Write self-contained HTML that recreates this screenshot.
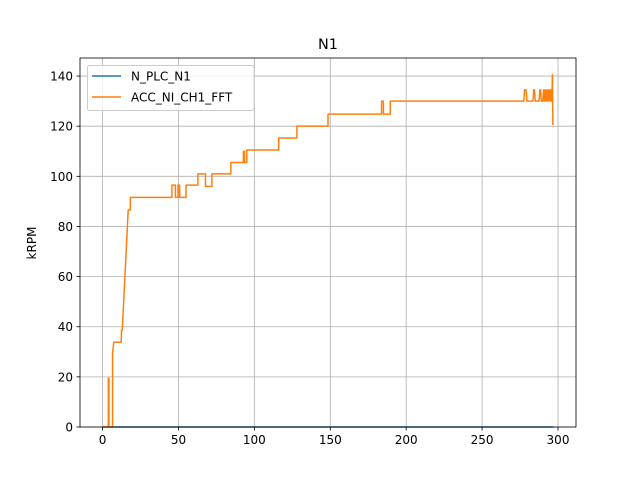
<!DOCTYPE html>
<html><head><meta charset="utf-8"><style>
body{margin:0;background:#fff;}
svg{display:block;font-family:"DejaVu Sans","Liberation Sans",sans-serif;}
</style></head><body>
<svg id="chart" width="640" height="480" viewBox="0 0 640 480">
<rect width="640" height="480" fill="#fff"/>
<g id="grid"></g>
<g id="series"></g>
<rect x="80" y="58" width="496" height="369" fill="none" stroke="#000" stroke-width="0.8"/>
<g id="ticks"></g>
<text x="328" y="49" font-size="14.4" text-anchor="middle">N1</text>
<text x="0" y="0" font-size="12" text-anchor="middle" transform="translate(36,243) rotate(-90)">kRPM</text>
<g>
<rect x="87.5" y="65.5" width="166.5" height="45" rx="2" fill="#fff" fill-opacity="0.8" stroke="#ccc" stroke-width="1"/>
<line x1="92" y1="76" x2="121" y2="76" stroke="#1f77b4" stroke-width="1.5"/>
<text x="131" y="80.5" font-size="12">N_PLC_N1</text>
<line x1="92" y1="97" x2="121" y2="97" stroke="#ff7f0e" stroke-width="1.5"/>
<text x="131" y="101.5" font-size="12">ACC_NI_CH1_FFT</text>
</g>
</svg>
<script>
const xTicks=[0,50,100,150,200,250,300];
const yTicks=[0,20,40,60,80,100,120,140];
const blueT=[0,297];
const blueV=[0,0];
const accT=[0,3.8,3.8,4.2,4.2,6.6,6.6,7.4,12.3,12.5,13,16.9,18.3,18.3,19.5,19.5,45.7,45.7,48,48,49.7,49.7,50.8,50.8,55,55,62.8,62.8,67.8,67.8,72,72,84.5,84.5,92.8,92.8,93.5,93.5,95,95,116,116,128,128,148.5,148.5,183.8,183.8,185,185,189.5,189.5,277.5,278,279,279.5,283.5,284,284.5,285,287.5,288,288.5,289,290,290.5,291,291.5,292,292.5,293,293.5,294,294.5,295.2,295.5,296,296.3,296.6];
const accV=[0,0,19.5,19.5,0,0,29.5,33.8,33.8,38.7,38.7,86.6,86.6,91.6,91.6,91.6,91.6,96.5,96.5,91.6,91.6,96.5,96.5,91.6,91.6,96.5,96.5,101,101,96,96,101,101,105.5,105.5,110,110,105.5,105.5,110.5,110.5,115.3,115.3,120,120,124.8,124.8,130,130,124.8,124.8,130,130,134.5,134.5,130,130,134.5,134.5,130,130,134.5,134.5,130,130,134.5,130,134.5,130,134.5,130,134.5,130,134.5,130,134.5,130,140.5,120.5];
const xMin=-14.85,xMax=311.85,yMin=0,yMax=147.2;
const L=80,R=576,T=58,B=427;
const sx=v=>L+(v-xMin)/(xMax-xMin)*(R-L);
const sy=v=>B-(v-yMin)/(yMax-yMin)*(B-T);
const NS='http://www.w3.org/2000/svg';
const grid=document.getElementById('grid'),ticks=document.getElementById('ticks'),series=document.getElementById('series');
function mk(tag,attrs,parent){const e=document.createElementNS(NS,tag);for(const k in attrs)e.setAttribute(k,attrs[k]);parent.appendChild(e);return e;}
xTicks.forEach(t=>{
 const x=sx(t);
 const g=mk('line',{x1:x,y1:T,x2:x,y2:B,stroke:'#b0b0b0','stroke-width':0.8},grid);
 
 
 mk('line',{x1:x,y1:B,x2:x,y2:B+3.5,stroke:'#000','stroke-width':0.8},ticks);
 const tx=mk('text',{x:x,y:B+17,'font-size':12,'text-anchor':'middle'},ticks);
 tx.textContent=t;
 
 
});
yTicks.forEach(t=>{
 const y=sy(t);
 const g=mk('line',{x1:L,y1:y,x2:R,y2:y,stroke:'#b0b0b0','stroke-width':0.8},grid);
 
 
 mk('line',{x1:L-3.5,y1:y,x2:L,y2:y,stroke:'#000','stroke-width':0.8},ticks);
 const tx=mk('text',{x:L-7,y:y+4.5,'font-size':12,'text-anchor':'end'},ticks);
 tx.textContent=t;
 
 
});
function line(ts,vs,color,name){
 const p=mk('polyline',{points:ts.map((t,i)=>sx(t)+','+sy(vs[i])).join(' '),fill:'none',stroke:color,'stroke-width':1.5,'stroke-linejoin':'round'},series);
 
 
}
line(blueT,blueV,'#1f77b4','line-n-plc-n1');
line(accT,accV,'#ff7f0e','line-acc-ni-ch1-fft');
</script>
</body></html>
